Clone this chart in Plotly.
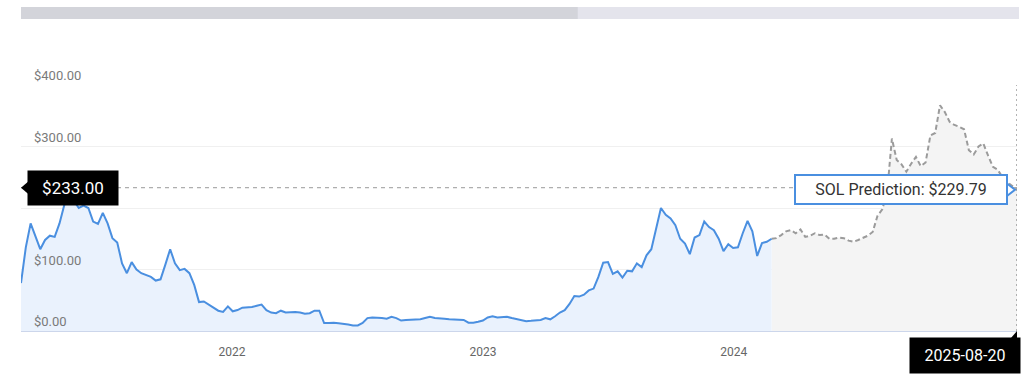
import pandas as pd
import plotly.graph_objects as go

# ---------------- data ----------------
hist_start = "2021-02-28"
hist_values = [
    78, 136, 175, 155, 133, 148, 155, 153, 175, 205,
    216, 212, 200, 204, 200, 178, 174, 192, 175, 151,
    144, 110, 94, 112, 100, 94, 91, 88, 82, 84,
    108, 133, 110, 99, 101, 94, 75, 47, 48, 43,
    39, 33, 31, 40, 32, 34, 38, 38, 39, 41,
    43, 34, 30, 29, 33, 30, 31, 31, 30, 28,
    29, 33, 33, 13, 13, 13.5, 12.5, 12, 10.5, 9,
    9, 13, 21, 22, 22, 21, 20, 23, 21, 17,
    18, 18, 18, 19, 21, 23, 21, 21, 20, 19,
    19, 19, 18, 13.5, 13.5, 15, 17, 22, 24, 22,
    22, 23, 21, 19, 18, 16, 16.5, 17, 18, 21,
    19, 24, 30, 34, 44, 57, 56, 59, 66, 69,
    88, 111, 112, 93, 97, 87, 98, 97, 110, 104,
    123, 133, 165, 200, 189, 183, 172, 150, 142, 125,
    152, 156, 178, 169, 164, 150, 130, 141, 135, 136,
    159, 179, 162, 122, 143, 145, 150,
]
pred_start = "2024-02-25"
pred_values = [
    150, 151, 156, 162, 164, 159, 165, 153, 155, 159,
    156, 157, 150, 150, 152, 151, 147, 145, 148, 152,
    155, 161, 187, 198, 225, 313, 278, 271, 259, 272,
    283, 268, 274, 318, 322, 367, 356, 340, 335, 332,
    328, 294, 287, 300, 305, 285, 267, 262, 250, 242,
    236, 229.79,
]
current_price = 233.00
prediction_label = "SOL Prediction"
prediction_date_label = "2025-08-20"
year_ticks = ["2022-01-01", "2023-01-01", "2024-01-01"]
year_labels = ["2022", "2023", "2024"]
y_ticks = [0, 100, 200, 300, 400]

hist_dates = pd.date_range(hist_start, periods=len(hist_values), freq="7D")
pred_dates = pd.date_range(pred_start, periods=len(pred_values), freq="7D")
last_date = pred_dates[-1]
last_value = pred_values[-1]

FONT = "Roboto, Arial, sans-serif"
BLUE = "#4a8fe0"

fig = go.Figure()
fig.add_trace(go.Scatter(
    x=pred_dates, y=pred_values, mode="lines", fill="tozeroy",
    fillcolor="#f4f4f4",
    line=dict(color="#9b9b9b", width=2, dash="5px,3px"),
    hoverinfo="skip",
))
fig.add_trace(go.Scatter(
    x=hist_dates, y=hist_values, mode="lines", fill="tozeroy",
    fillcolor="#eaf2fd",
    line=dict(color=BLUE, width=2),
    hoverinfo="skip",
))

shapes = [
    # navigator scrollbar
    dict(type="rect", xref="paper", yref="paper", x0=0, x1=1.002, y0=1.268, y1=1.317,
         fillcolor="#e4e4ec", line=dict(width=0), layer="above"),
    dict(type="rect", xref="paper", yref="paper", x0=0, x1=0.559, y0=1.268, y1=1.317,
         fillcolor="#d3d4da", line=dict(width=0), layer="above"),
    # current price dashed line
    dict(type="line", xref="x", yref="y", x0=hist_dates[0], x1=last_date,
         y0=current_price, y1=current_price,
         line=dict(color="#9a9a9a", width=1, dash="4px,4px"), layer="above"),
    # vertical crosshair
    dict(type="line", xref="x", yref="paper", x0=last_date, x1=last_date, y0=0, y1=1,
         line=dict(color="#9a9a9a", width=1.5, dash="2px,3px"), layer="above"),
    # pointer of price label
    dict(type="path", xref="paper", yref="y", xsizemode="pixel", ysizemode="pixel",
         xanchor=0, yanchor=current_price, path="M 0,0 L 7,6 L 7,-6 Z",
         fillcolor="black", line=dict(width=0), layer="above"),
    # pointer of prediction tooltip
    dict(type="path", xref="x", yref="y", xsizemode="pixel", ysizemode="pixel",
         xanchor=last_date, yanchor=last_value, path="M -11,7 L -2,0 L -11,-7 Z",
         fillcolor="white", line=dict(color=BLUE, width=2), layer="above"),
    # pointer of date label
    dict(type="path", xref="x", yref="paper", xsizemode="pixel", ysizemode="pixel",
         xanchor=last_date, yanchor=0, path="M -6,-7 L 0,0 L 5,-7 Z",
         fillcolor="black", line=dict(width=0), layer="above"),
]

annotations = [
    dict(xref="paper", yref="y", x=0, y=current_price, xanchor="left", yanchor="middle",
         xshift=6, text=f"${current_price:,.2f}", showarrow=False,
         font=dict(family=FONT, size=17, color="white"),
         bgcolor="black", borderpad=3, width=84, height=28),
    dict(xref="x", yref="y", x=last_date, y=last_value, xanchor="right", yanchor="middle",
         xshift=-9, text=f"{prediction_label}: ${last_value:,.2f}", showarrow=False,
         font=dict(family=FONT, size=16, color="#333333"),
         bgcolor="white", bordercolor=BLUE, borderwidth=2, borderpad=3,
         width=204, height=21),
    dict(xref="x", yref="paper", x=last_date, y=0, xanchor="right", yanchor="top",
         xshift=4, yshift=-6, text=prediction_date_label, showarrow=False,
         font=dict(family=FONT, size=16, color="white"),
         bgcolor="black", borderpad=3, width=104, height=29),
]

fig.update_layout(
    width=1024, height=387,
    margin=dict(l=21, r=7, t=85, b=56),
    paper_bgcolor="white", plot_bgcolor="white",
    showlegend=False,
    font=dict(family=FONT),
    shapes=shapes,
    annotations=annotations,
    xaxis=dict(
        type="date", range=[hist_dates[0], last_date],
        tickvals=year_ticks, ticktext=year_labels,
        showgrid=False, zeroline=False,
        showline=True, linecolor="#ccd6eb", linewidth=1,
        ticks="outside", ticklen=10, tickcolor="rgba(0,0,0,0)",
        tickfont=dict(family=FONT, size=12, color="#666666"),
    ),
    yaxis=dict(
        range=[0, 400], tickvals=y_ticks,
        tickformat="$,.2f",
        ticklabelposition="inside top", ticklabelstandoff=10,
        ticklabeloverflow="allow",
        ticks="", showgrid=True, gridcolor="#f0f0f0", gridwidth=1,
        zeroline=False, showline=False,
        tickfont=dict(family=FONT, size=13, color="#7a7a7a"),
    ),
)

fig.write_html(
    "out.html",
    config={"displayModeBar": False},
    post_script="document.body.style.margin='0px';document.body.style.overflow='hidden';",
)
